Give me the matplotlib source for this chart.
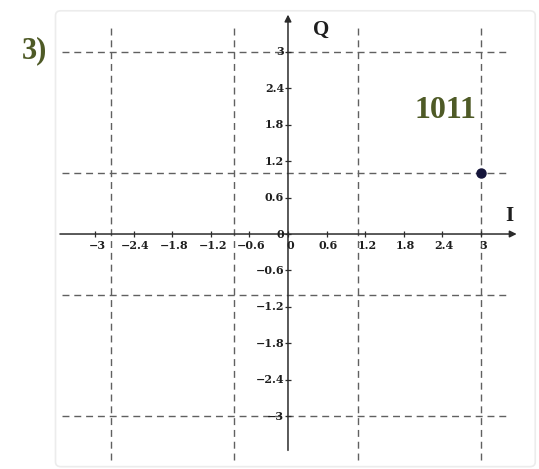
import matplotlib.pyplot as plt
from matplotlib.patches import FancyBboxPatch

# tick values on the I and Q axes
i_ticks = [-3, -2.4, -1.8, -1.2, -0.6, 0, 0.6, 1.2, 1.8, 2.4, 3]
q_ticks = [-3, -2.4, -1.8, -1.2, -0.6, 0, 0.6, 1.2, 1.8, 2.4, 3]

# dashed decision lines
i_lines = [-2.75, -0.84, 1.09, 3]
q_lines = [-3, -1, 1, 3]

# constellation point and its bit label
point_i = [3]
point_q = [1]
point_label = '1011'

olive = '#4e5a26'
axis_col = '#2b2b2b'


def fmt(v):
    if v == 0:
        return '0'
    s = ('%g' % abs(v))
    return ('\u2212' + s) if v < 0 else s


fig = plt.figure(figsize=(5.39, 4.69), dpi=100)
ax = fig.add_axes([0, 0, 1, 1])
ax.set_xlim(-4.479, 3.904)
ax.set_ylim(-3.871, 3.855)
ax.axis('off')

# faint frame around the plane
frame = FancyBboxPatch((0.103, 0.005), 0.89, 0.972, boxstyle='round,pad=0,rounding_size=0.01',
                       transform=fig.transFigure, facecolor='none', edgecolor='#ececec', lw=1.2)
fig.patches.append(frame)

# dashed grid
for x in i_lines:
    ax.plot([x, x], [-3.72, 3.39], color='#606060', lw=1.0, ls=(0, (5, 3.5)))
for y in q_lines:
    ax.plot([-3.51, 3.45], [y, y], color='#606060', lw=1.0, ls=(0, (5, 3.5)))

# axes with arrows
ax.annotate('', xy=(3.6, 0), xytext=(-3.59, 0),
            arrowprops=dict(arrowstyle='-|>', color=axis_col, lw=1.1, mutation_scale=10))
ax.annotate('', xy=(0, 3.66), xytext=(0, -3.61),
            arrowprops=dict(arrowstyle='-|>', color=axis_col, lw=1.1, mutation_scale=10))

# tick marks and labels
ax.plot(i_ticks, [0] * len(i_ticks), ls='none', marker='|', ms=5, mew=0.9, color=axis_col)
ax.plot([0] * len(q_ticks), q_ticks, ls='none', marker='_', ms=5, mew=0.9, color=axis_col)
for v in i_ticks:
    ax.text(v + 0.03, -0.1, fmt(v), ha='center', va='top', fontsize=8,
            family='DejaVu Serif', weight='bold', color='#1e1e1e')
for v in q_ticks:
    ax.text(-0.06, v, fmt(v), ha='right', va='center', fontsize=8,
            family='DejaVu Serif', weight='bold', color='#1e1e1e')

ax.text(0.51, 3.37, 'Q', ha='center', va='center', fontsize=15,
        family='Liberation Serif', weight='bold', color='#1e1e1e')
ax.text(3.44, 0.30, 'I', ha='center', va='center', fontsize=15,
        family='Liberation Serif', weight='bold', color='#1e1e1e')

# constellation point
ax.plot(point_i, point_q, ls='none', marker='o', ms=6.5, color='#14143a')
ax.text(point_i[0] - 0.55, point_q[0] + 1.04, point_label, ha='center', va='center',
        fontsize=23, family='Liberation Serif', weight='bold', color=olive)

fig.text(0.04, 0.892, '3)', ha='left', va='center', fontsize=22,
         family='Liberation Serif', weight='bold', color=olive)

fig.savefig('out.png', dpi=100)
